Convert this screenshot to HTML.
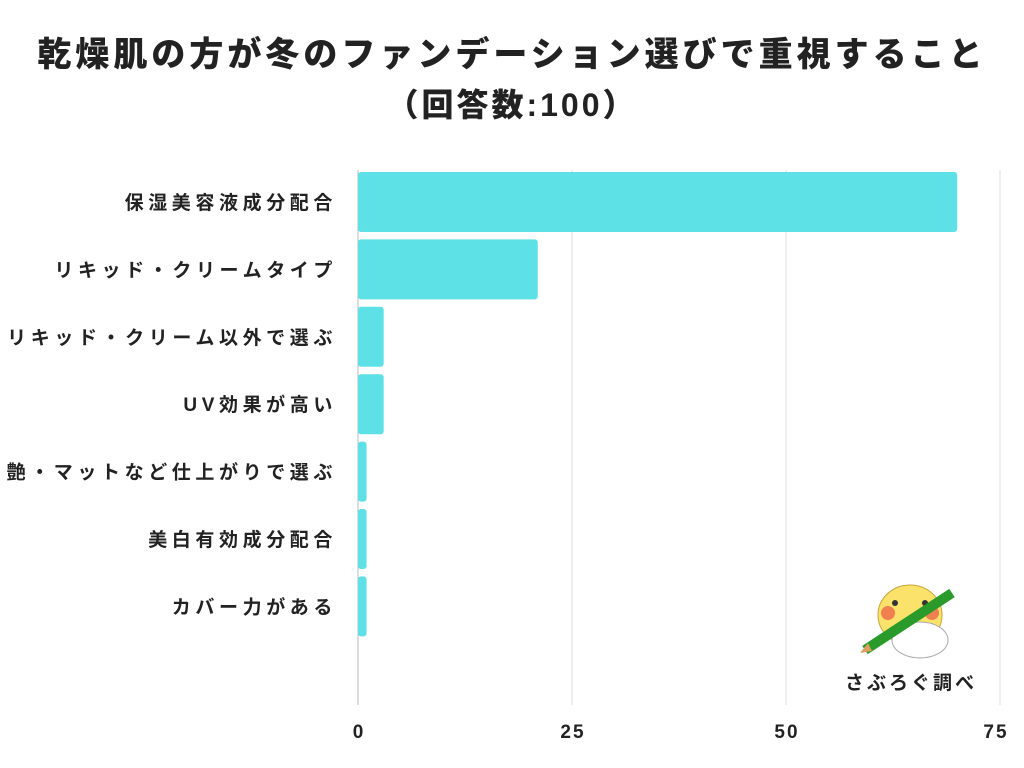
<!DOCTYPE html>
<html><head><meta charset="utf-8">
<style>
body{margin:0;width:1024px;height:768px;background:#fff;overflow:hidden;font-family:"Liberation Sans","Noto Sans CJK JP",sans-serif;}
.t{position:absolute;left:0;width:1024px;text-align:center;font-weight:900;color:#222;letter-spacing:4px;}
</style></head>
<body>
<div class="t" style="top:27px;font-size:34px;">乾燥肌の方が冬のファンデーション選びで重視すること</div>
<div class="t" style="top:80px;font-size:32px;letter-spacing:3px">（回答数:100）</div>
<svg id="c" width="1024" height="768" style="position:absolute;left:0;top:0"></svg>
<script>
const categories=["保湿美容液成分配合","リキッド・クリームタイプ","リキッド・クリーム以外で選ぶ","UV効果が高い","艶・マットなど仕上がりで選ぶ","美白有効成分配合","カバー力がある"];
const values=[70,21,3,3,1,1,1];
const ticks=[0,25,50,75];
const svg=document.getElementById('c');
const NS='http://www.w3.org/2000/svg';
const x=v=>358+v*(1000-358)/75;
const y=i=>172+i*67.4;
function mk(t,a){const e=document.createElementNS(NS,t);for(const k in a)e.setAttribute(k,a[k]);svg.appendChild(e);return e;}
ticks.forEach(t=>{
 const l=mk('line',{x1:x(t),x2:x(t),y1:170,y2:705,stroke:t===0?'#bbb':'#ddd','stroke-width':1});
 
 
 const tx=mk('text',{x:x(t)-(t===75?5:0)+1,y:738,'text-anchor':'middle','font-size':19,'font-weight':'bold',fill:'#222','letter-spacing':2});
 tx.textContent=t;
 
 
});
categories.forEach((c,i)=>{
 const r=mk('rect',{x:x(0),y:y(i),width:x(values[i])-x(0),height:60,rx:3,fill:'#5de0e6'});
 
 
 const tx=mk('text',{x:337,y:y(i)+37,'text-anchor':'end','font-size':19,'font-weight':'bold',fill:'#222','letter-spacing':4.6});
 tx.textContent=c;
 
 
});
</script>
<svg width="130" height="110" style="position:absolute;left:850px;top:555px">
<ellipse cx="60" cy="60" rx="32" ry="30" fill="#fbe36b" stroke="#c9a43a"/>
<ellipse cx="70" cy="85" rx="28" ry="18" fill="#fff" stroke="#aaa"/>
<circle cx="45" cy="48" r="3" fill="#333"/><circle cx="75" cy="48" r="3" fill="#333"/>
<circle cx="38" cy="58" r="7" fill="#f08050"/><circle cx="82" cy="58" r="7" fill="#f08050"/>
<line x1="15" y1="95" x2="102" y2="38" stroke="#2a9a2a" stroke-width="10"/>
<polygon points="10,98 18,88 22,96" fill="#d9a060"/>
</svg>
<div style="position:absolute;left:845px;top:668px;font-size:19px;font-weight:bold;color:#222;letter-spacing:3px">さぶろぐ調べ</div>
</body></html>
